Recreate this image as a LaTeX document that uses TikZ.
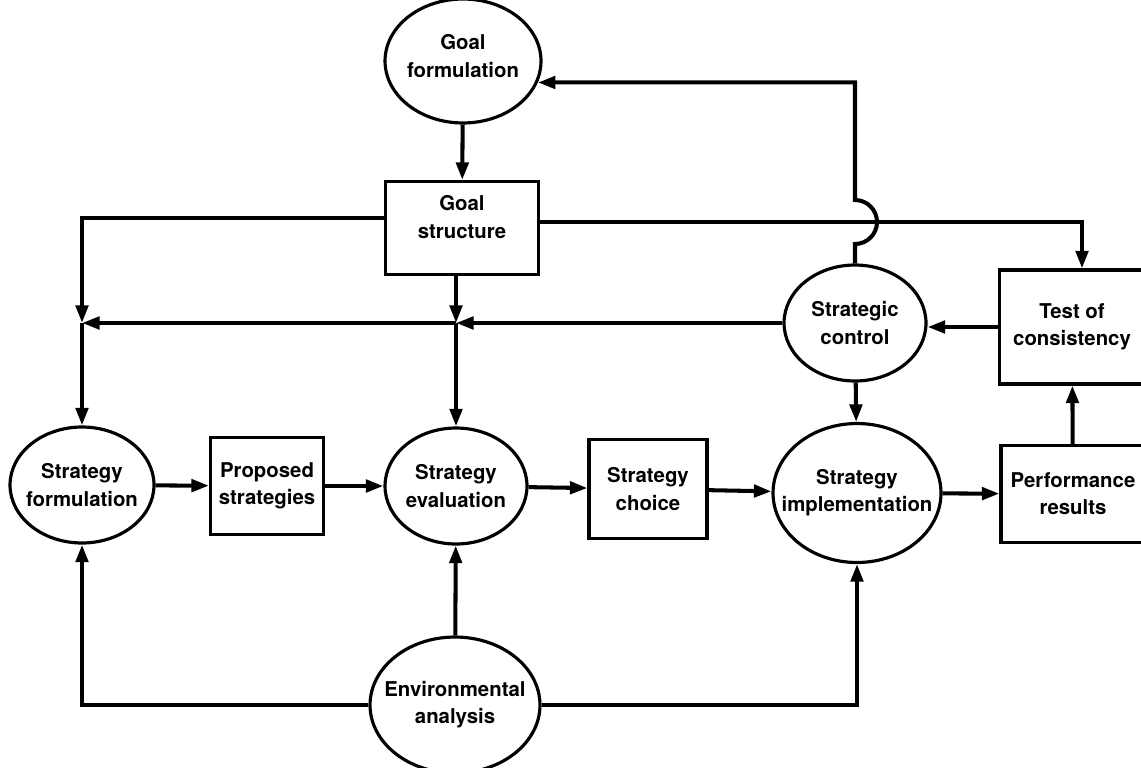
\documentclass[tikz,border=0pt]{standalone}
\usepackage{fontspec}
\setmainfont{TeX Gyre Heros}
\usetikzlibrary{shapes.geometric,arrows.meta}

\begin{document}
\begin{tikzpicture}[x=0.02cm,y=-0.02cm,
		oval/.style={ellipse,draw,line width=1.8pt,inner sep=0pt},
		kasten/.style={rectangle,draw,line width=1.8pt,inner sep=0pt},
		txt/.style={align=center,font=\fontsize{11.6}{15.5}\selectfont\bfseries},
		pfeil/.style={line width=2.3pt,-{Triangle[length=10pt,width=7pt]}}]

			\useasboundingbox (0,0) rectangle (1141,767);
			\clip (0,0) rectangle (1141,767);

			% Ziele
			\node[oval,minimum width=3.12cm,minimum height=2.48cm,label={[txt,yshift=0.1cm]center:Goal\\formulation}] (gf) at (463,61) {};
			\node[kasten,minimum width=3.06cm,minimum height=1.86cm,label={[txt,yshift=0.22cm]center:Goal\\structure}] (gs) at (462,228) {};

			% Kontrolle
			\node[oval,minimum width=2.84cm,minimum height=2.32cm,label={[txt]center:Strategic\\control}] (ctrl) at (855,323) {};
			\node[kasten,txt,minimum width=2.9cm,minimum height=2.28cm] (test) at (1072,327) {Test of\\consistency};

			% Hauptkette
			\node[oval,minimum width=2.88cm,minimum height=2.32cm,label={[txt]center:Strategy\\formulation}] (form) at (82,485) {};
			\node[kasten,txt,minimum width=2.26cm,minimum height=1.94cm] (prop) at (267,486) {Proposed\\strategies};
			\node[oval,minimum width=2.84cm,minimum height=2.32cm,label={[txt]center:Strategy\\evaluation}] (eval) at (456,486) {};
			\node[kasten,txt,minimum width=2.36cm,minimum height=1.98cm] (choice) at (648,489) {Strategy\\choice};
			\node[oval,minimum width=3.36cm,minimum height=2.78cm,label={[txt]center:Strategy\\implementation}] (impl) at (857,493) {};
			\node[kasten,txt,minimum width=2.88cm,minimum height=1.94cm] (perf) at (1073,494) {Performance\\results};

			% Umwelt
			\node[oval,minimum width=3.4cm,minimum height=2.72cm,label={[txt]center:Environmental\\analysis}] (env) at (455,705) {};

			% Hilfspunkte
			\coordinate (jl) at (form.north |- ctrl.west);
			\coordinate (jm) at (eval.north |- ctrl.west);
			\coordinate (gsW) at ([yshift=0.2cm]gs.west);
			\coordinate (gsE) at ([yshift=0.12cm]gs.east);
			\coordinate (hop) at (ctrl.north |- gsE);

			% Verbindungen
			\draw[pfeil] (gf) -- (gs);
			\draw[pfeil] (gsW) -| (jl);
			\draw[pfeil] (jl) -- (form);
			\draw[pfeil] (gs.south -| jm) -- (jm);
			\draw[pfeil] (jm) -- (eval);
			\draw[pfeil] (ctrl) -- (jm);
			\draw[pfeil] (jm) -- (jl);
			\draw[pfeil] (gsE) -| ([xshift=0.2cm]test.north);
			\draw[pfeil] (ctrl.north) -- ([yshift=-0.44cm]hop) arc[start angle=-90,end angle=90,radius=0.44cm] |- (gf.-16);
			\draw[pfeil] (test.west) -- (test.west -| ctrl.east);
			\draw[pfeil] (ctrl) -- (impl);

			\draw[pfeil] (form) -- (prop);
			\draw[pfeil] (prop) -- (eval);
			\draw[pfeil] (eval) -- (choice);
			\draw[pfeil] (choice) -- (impl);
			\draw[pfeil] (impl) -- (perf);
			\draw[pfeil] (perf) -- (test);

			\draw[pfeil] (env.west) -| (form.south);
			\draw[pfeil] (env) -- (eval);
			\draw[pfeil] (env.east) -| (impl.south);

		\end{tikzpicture}
\end{document}
